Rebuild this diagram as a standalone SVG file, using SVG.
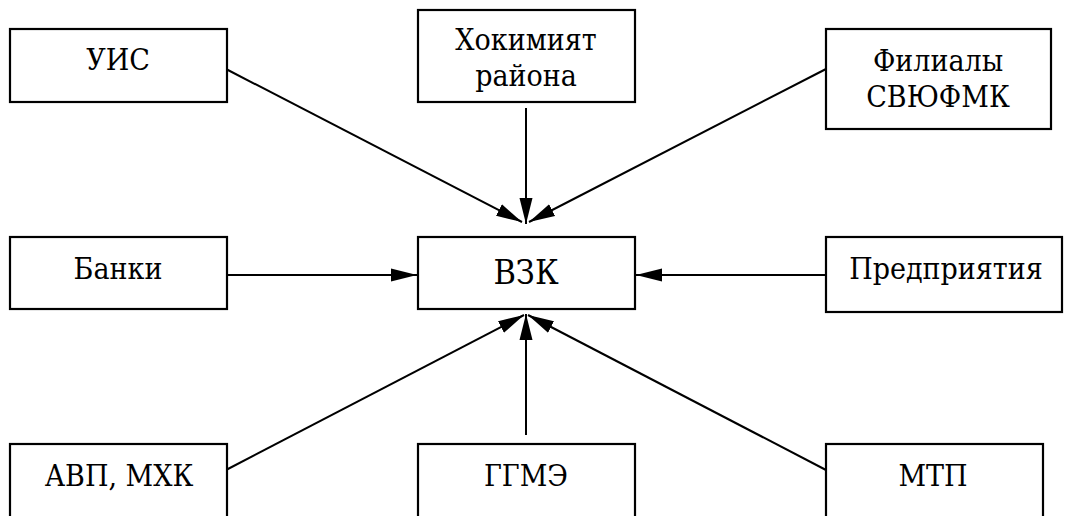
<svg xmlns="http://www.w3.org/2000/svg" width="1065" height="516" viewBox="0 0 1065 516">
<defs>
<style>
.box{fill:#fff;stroke:#000;stroke-width:2.2}
.t{font-family:"DejaVu Serif Condensed","DejaVu Serif",serif;font-stretch:condensed;font-size:30px;fill:#000;text-anchor:middle}
.big{font-size:34px}
.c{stroke:#000;stroke-width:2;fill:none;marker-end:url(#ah)}
</style>
<marker id="ah" markerUnits="userSpaceOnUse" markerWidth="28" markerHeight="14" refX="26" refY="7" orient="auto">
<path d="M0,0.5 L26,7 L0,13.5 Z" fill="#000"/>
</marker>
</defs>
<rect width="1065" height="516" fill="#fff"/>
<g id="connectors">
<line class="c" x1="226" y1="69" x2="522" y2="222"/>
<line class="c" x1="526" y1="108" x2="526" y2="224"/>
<line class="c" x1="826" y1="69" x2="529" y2="222"/>
<line class="c" x1="226" y1="275" x2="417" y2="275"/>
<line class="c" x1="826" y1="275" x2="636" y2="275"/>
<line class="c" x1="226" y1="470" x2="524" y2="315"/>
<line class="c" x1="526" y1="435" x2="526" y2="314"/>
<line class="c" x1="826" y1="470" x2="528" y2="315"/>
</g>
<g id="uis"><rect class="box" x="10" y="29" width="217" height="73"/><text class="t" x="118" y="70">УИС</text></g>
<g id="hokimiyat"><rect class="box" x="418" y="10" width="217" height="92"/><text class="t" x="526" y="50">Хокимият</text><text class="t" x="526" y="86">района</text></g>
<g id="filialy"><rect class="box" x="826" y="29" width="225" height="100"/><text class="t" x="938" y="71">Филиалы</text><text class="t" x="938" y="107">СВЮФМК</text></g>
<g id="banki"><rect class="box" x="10" y="237" width="217" height="72"/><text class="t" x="118" y="279">Банки</text></g>
<g id="vzk"><rect class="box" x="418" y="237" width="217" height="72"/><text class="t big" x="526" y="284">ВЗК</text></g>
<g id="predpriyatiya"><rect class="box" x="826" y="237" width="236" height="75"/><text class="t" x="946" y="279">Предприятия</text></g>
<g id="avp"><rect class="box" x="10" y="444" width="217" height="80"/><text class="t" x="119" y="486">АВП, МХК</text></g>
<g id="ggme"><rect class="box" x="418" y="444" width="217" height="80"/><text class="t" x="526" y="486">ГГМЭ</text></g>
<g id="mtp"><rect class="box" x="826" y="444" width="217" height="80"/><text class="t" x="933" y="486">МТП</text></g>
</svg>
